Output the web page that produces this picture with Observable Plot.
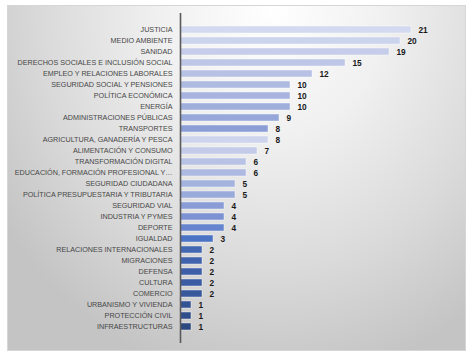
<!DOCTYPE html>
<html>
<head>
<meta charset="utf-8">
<script src="https://cdn.jsdelivr.net/npm/d3@7"></script>
<script src="https://cdn.jsdelivr.net/npm/@observablehq/plot@0.6"></script>
<style>
  html, body { margin: 0; padding: 0; background: #ffffff; }
  #wrap { position: relative; width: 471px; height: 362px; overflow: hidden; }
  #panel {
    position: absolute; left: 7px; top: 5px; width: 459px; height: 346px;
    border: 1px solid #d6d6d6; box-sizing: border-box;
    background: radial-gradient(ellipse 72% 110% at 58% 0%, #ffffff 0%, #f0f0f0 35%, #dadada 70%, #c4c4c4 100%);
  }
  #chart { position: absolute; left: 0; top: 0; }
  #chart svg { background: transparent !important; }
</style>
</head>
<body>
<div id="wrap"><div id="panel"></div><div id="chart"></div></div>
<script>
const categories = [
  "JUSTICIA", "MEDIO AMBIENTE", "SANIDAD", "DERECHOS SOCIALES E INCLUSIÓN SOCIAL",
  "EMPLEO Y RELACIONES LABORALES", "SEGURIDAD SOCIAL Y PENSIONES", "POLÍTICA ECONÓMICA",
  "ENERGÍA", "ADMINISTRACIONES PÚBLICAS", "TRANSPORTES", "AGRICULTURA, GANADERÍA Y PESCA",
  "ALIMENTACIÓN Y CONSUMO", "TRANSFORMACIÓN DIGITAL", "EDUCACIÓN, FORMACIÓN PROFESIONAL Y…",
  "SEGURIDAD CIUDADANA", "POLÍTICA PRESUPUESTARIA Y TRIBUTARIA", "SEGURIDAD VIAL",
  "INDUSTRIA Y PYMES", "DEPORTE", "IGUALDAD", "RELACIONES INTERNACIONALES", "MIGRACIONES",
  "DEFENSA", "CULTURA", "COMERCIO", "URBANISMO Y VIVIENDA", "PROTECCIÓN CIVIL", "INFRAESTRUCTURAS"
];
const values = [21, 20, 19, 15, 12, 10, 10, 10, 9, 8, 8, 7, 6, 6, 5, 5, 4, 4, 4, 3, 2, 2, 2, 2, 2, 1, 1, 1];
const palette = [
  "#d3d9ef", "#ccd3ec", "#c6cdea", "#bfc7e7", "#b7c1e4", "#afbae1", "#a8b4df",
  "#a0aedc", "#97a7d9", "#8c9ed6", "#cdd4ec", "#c3cbe9", "#b8c2e5", "#aeb9e2",
  "#a4b2de", "#9aaadb", "#899cd6", "#7d92d2", "#6785cf", "#4a73c4", "#4467b1",
  "#4163ad", "#3e5fa8", "#3b5ba2", "#38589c", "#345393", "#304e8a", "#2c4880"
];

const data = categories.map((c, i) => ({ cat: c, value: values[i] }));

const chart = Plot.plot({
  width: 471,
  height: 362,
  marginLeft: 180,
  marginRight: 30,
  marginTop: 13,
  marginBottom: 19,
  style: { background: "transparent", fontFamily: "'Liberation Sans', Arial, sans-serif" },
  x: { domain: [0, 21], range: [180, 411], axis: null },
  y: { domain: categories, padding: 0.4, label: null },
  color: { domain: categories, range: palette },
  marks: [
    Plot.barX(data, { y: "cat", x: "value", fill: "cat", stroke: "#ffffff", strokeOpacity: 0.7, strokeWidth: 0.6 }),
    Plot.axisY({ tickSize: 0, tickPadding: 8, fontSize: 7.2, fill: "#474747", label: null }),
    Plot.ruleX([0], { stroke: "#5a5a5a", strokeWidth: 1.6 }),
    Plot.text(data, { y: "cat", x: "value", text: d => String(d.value), dx: 7, textAnchor: "start",
      fontWeight: "bold", fontSize: 8.3, fill: "#1a1a1a" })
  ]
});
document.getElementById("chart").appendChild(chart);
</script>
</body>
</html>
